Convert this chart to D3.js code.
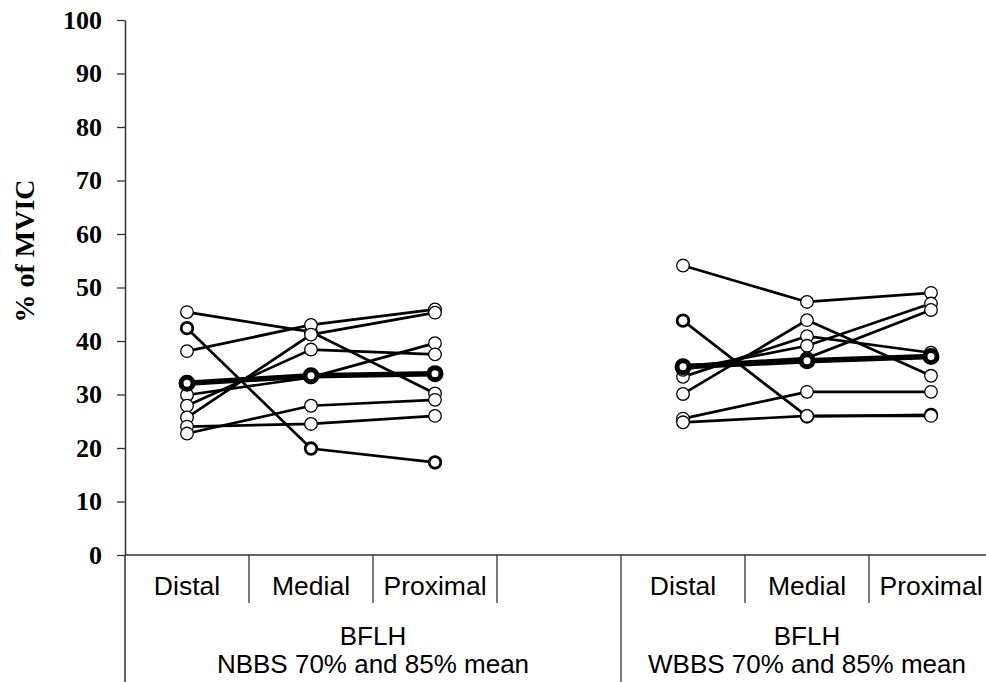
<!DOCTYPE html>
<html>
<head>
<meta charset="utf-8">
<script src="https://cdn.jsdelivr.net/npm/d3@7"></script>
<style>
	body{margin:0;background:#ffffff;}
	svg{display:block;}
</style>
</head>
<body>
<svg id="chart" width="986" height="682"></svg>
<script>
	'use strict';
	// categories
	var positions = ['Distal','Medial','Proximal'];
	var groupTitles = ['BFLH','BFLH'];
	var groupSubtitles = ['NBBS 70% and 85% mean','WBBS 70% and 85% mean'];
	var yTicks = [0,10,20,30,40,50,60,70,80,90,100];

	// one row per subject: [Distal, Medial, Proximal]
	var nbbsSubjects = [
		[45.4,41.7,30.2],
		[42.4,19.9,17.3],
		[38.1,43.0,45.9],
		[29.9,33.2,39.6],
		[27.9,38.4,37.5],
		[25.7,41.2,45.3],
		[24.0,24.5,26.0],
		[22.7,27.9,29.0]
	];
	var nbbsMean = [32.1,33.5,33.9];

	var wbbsSubjects = [
		[54.1,47.3,49.0],
		[43.8,25.9,26.2],
		[30.1,43.9,33.5],
		[25.5,30.5,30.5],
		[24.8,26.0,26.0],
		[33.3,40.9,37.8],
		[34.6,39.1,47.0],
		[35.4,36.8,45.8]
	];
	var wbbsMean = [35.2,36.3,37.1];

	// subject drawn with heavier markers in both panels
	var highlightSubject = 1;

	var svg = d3.select('#chart');
	var plotTop = 20, plotBottom = 555, axisX = 125, bandWidth = 124;

	// 4 slots on the left (last one empty), 3 on the right
	var slots = ['N0','N1','N2','N3','W0','W1','W2'];
	var x = d3.scaleBand().domain(slots).range([axisX, axisX + bandWidth*slots.length]).paddingInner(0).paddingOuter(0);
	var y = d3.scaleLinear().domain([0,100]).range([plotBottom, plotTop]);

	// y axis
	var yAxis = d3.axisLeft(y).tickValues(yTicks).tickSize(8).tickSizeOuter(0).tickPadding(15);
	var yg = svg.append('g').attr('transform','translate('+axisX+',0)').call(yAxis);
	yg.select('.domain').attr('stroke','#333').attr('stroke-width',1.5);
	yg.selectAll('.tick line').attr('stroke','#333').attr('stroke-width',1.3);
	yg.selectAll('.tick text')
		.style('font-family','"Liberation Serif", "Times New Roman", serif')
		.style('font-weight','bold')
		.style('font-size','26px')
		.attr('fill','#000');
	svg.append('line')
		.attr('x1',axisX).attr('x2',axisX)
		.attr('y1',plotBottom).attr('y2',682)
		.attr('stroke','#333').attr('stroke-width',1.5);

	svg.append('text')
		.text('% of MVIC')
		.attr('transform','translate(34,251) rotate(-90)')
		.style('text-anchor','middle')
		.style('font-family','"Liberation Serif", "Times New Roman", serif')
		.style('font-weight','bold')
		.style('font-size','28px');

	// x axis line and category separators
	svg.append('line')
		.attr('x1',axisX).attr('x2',986)
		.attr('y1',plotBottom).attr('y2',plotBottom)
		.attr('stroke','#333').attr('stroke-width',1.5);

	var sepData = slots.slice(1).concat(['end']);
	svg.append('g').selectAll('line')
		.data(sepData)
		.enter()
		.append('line')
		.attr('x1',(d)=> d==='end' ? x('W2')+bandWidth : x(d))
		.attr('x2',(d)=> d==='end' ? x('W2')+bandWidth : x(d))
		.attr('y1',plotBottom)
		.attr('y2',(d)=> d==='W0' ? 682 : 603)
		.attr('stroke','#333').attr('stroke-width',1.3);

	var labelFont = '"Liberation Sans", Arial, sans-serif';
	var catSlots = ['N0','N1','N2','W0','W1','W2'];
	svg.append('g').selectAll('text')
		.data(catSlots)
		.enter()
		.append('text')
		.text((d,i)=>positions[i%3])
		.attr('x',(d)=>x(d)+bandWidth/2)
		.attr('y',595)
		.style('text-anchor','middle')
		.style('font-family',labelFont)
		.style('font-size','26.5px');

	var groupCenters = [(x('N0')+x('N3')+bandWidth)/2, (x('W0')+x('W2')+bandWidth)/2];
	groupCenters.forEach(function(cx,i){
		svg.append('text')
			.attr('x',cx).attr('y',645)
			.text(groupTitles[i])
			.style('text-anchor','middle')
			.style('font-family',labelFont)
			.style('font-size','26px');
		svg.append('text')
			.attr('x',cx).attr('y',673)
			.text(groupSubtitles[i])
			.style('text-anchor','middle')
			.style('font-family',labelFont)
			.style('font-size','26px');
	});

	// profiles
	function drawPanel(prefix, subjects, mean){
		var xs = function(i){ return x(prefix+i) + bandWidth/2; };
		var line = d3.line().x((d,i)=>xs(i)).y((d)=>y(d));
		var g = svg.append('g');
		subjects.forEach(function(s,k){
			var heavy = k===highlightSubject;
			var sg = g.append('g');
			sg.append('path')
				.attr('d',line(s))
				.attr('fill','none')
				.attr('stroke','#000')
				.attr('stroke-width',2.7);
			sg.selectAll('circle')
				.data(s)
				.enter()
				.append('circle')
				.attr('cx',(d,i)=>xs(i))
				.attr('cy',(d)=>y(d))
				.attr('r',heavy ? 5.8 : 6.3)
				.attr('fill','#fff')
				.attr('stroke','#000')
				.attr('stroke-width',heavy ? 2.8 : 1.3);
		});
		var mg = g.append('g');
		mg.append('path')
			.attr('d',line(mean))
			.attr('fill','none')
			.attr('stroke','#000')
			.attr('stroke-width',5.5);
		mg.selectAll('circle')
			.data(mean)
			.enter()
			.append('circle')
			.attr('cx',(d,i)=>xs(i))
			.attr('cy',(d)=>y(d))
			.attr('r',6)
			.attr('fill','#fff')
			.attr('stroke','#000')
			.attr('stroke-width',5);
	}
	drawPanel('N', nbbsSubjects, nbbsMean);
	drawPanel('W', wbbsSubjects, wbbsMean);
</script>
</body>
</html>
